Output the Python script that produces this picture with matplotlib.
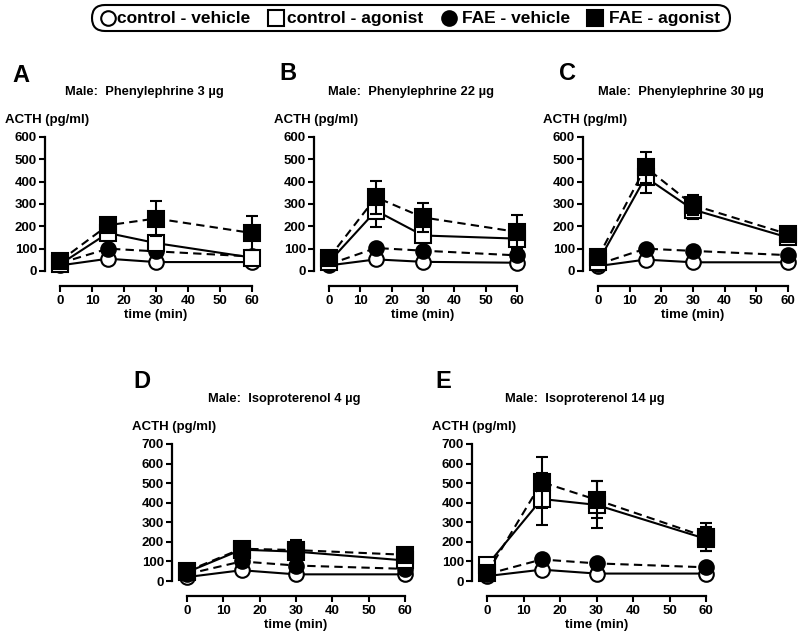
import matplotlib
matplotlib.use("Agg")
import matplotlib.pyplot as plt
from matplotlib.lines import Line2D
from matplotlib.patches import FancyBboxPatch

plt.rcParams['font.family'] = ['Liberation Sans', 'DejaVu Sans']
plt.rcParams['font.weight'] = 'bold'

times = [0, 15, 30, 60]
series_names = ["control - vehicle", "control - agonist", "FAE - vehicle", "FAE - agonist"]

panel_letters = ["A", "B", "C", "D", "E"]
panel_titles = ["Male:  Phenylephrine 3 µg", "Male:  Phenylephrine 22 µg",
                "Male:  Phenylephrine 30 µg", "Male:  Isoproterenol 4 µg",
                "Male:  Isoproterenol 14 µg"]
panel_ymax = [600, 600, 600, 700, 700]

# values per panel: control-vehicle, control-agonist, FAE-vehicle, FAE-agonist
ctrl_veh = [[25, 55, 40, 40], [25, 52, 41, 37], [22, 51, 39, 39], [20, 55, 34, 34], [25, 58, 38, 38]]
ctrl_ag = [[30, 170, 125, 60], [40, 270, 159, 145], [40, 420, 275, 150], [45, 160, 150, 105], [80, 419, 389, 215]]
fae_veh = [[35, 100, 88, 65], [30, 103, 91, 70], [30, 100, 90, 71], [35, 100, 79, 62], [35, 110, 90, 70]]
fae_ag = [[45, 205, 235, 170], [59, 330, 240, 175], [61, 465, 295, 165], [50, 165, 158, 134], [40, 505, 415, 225]]

ctrl_veh_err = [[3, 8, 6, 6], [3, 8, 6, 6], [3, 8, 6, 6], [3, 8, 6, 6], [3, 8, 6, 6]]
ctrl_ag_err = [[5, 15, 30, 15], [5, 75, 20, 30], [5, 70, 40, 20], [5, 15, 20, 15], [10, 135, 120, 60]]
fae_veh_err = [[3, 10, 8, 8], [3, 10, 8, 8], [3, 10, 8, 8], [3, 10, 8, 8], [3, 12, 8, 8]]
fae_ag_err = [[10, 20, 80, 75], [10, 75, 65, 75], [10, 70, 45, 30], [10, 20, 50, 20], [10, 130, 95, 70]]

W, H = 800, 644
fig = plt.figure(figsize=(W / 100, H / 100), dpi=100)

# axes boxes in pixels: left, right, top(ymax), bottom(0)
boxes = [(60, 252, 137, 271), (329, 517, 137, 271), (598, 788, 137, 271),
         (187, 405, 444, 581), (487, 706, 444, 581)]
letter_pos = [(21, 75), (288, 73), (568, 73), (142, 382), (443, 382)]

TFS = 9.5
for i in range(5):
    l, r, t, b = boxes[i]
    ax = fig.add_axes([l / W, 1 - b / H, (r - l) / W, (b - t) / H])
    ax.set_xlim(0, 60)
    ax.set_ylim(0, panel_ymax[i])
    ax.patch.set_visible(False)
    for s in ["top", "right"]:
        ax.spines[s].set_visible(False)
    ax.spines["left"].set_position(("outward", 11))
    ax.spines["bottom"].set_position(("outward", 10.5))
    ax.spines["left"].set_linewidth(1.6)
    ax.spines["bottom"].set_linewidth(1.6)
    ax.set_xticks(range(0, 61, 10))
    ax.set_yticks(range(0, panel_ymax[i] + 1, 100))
    ax.tick_params(width=1.5, length=4, labelsize=TFS)
    ax.tick_params(axis="x", pad=3)
    ax.tick_params(axis="y", pad=1.5)
    for lab in ax.get_xticklabels() + ax.get_yticklabels():
        lab.set_fontweight("bold")
    ax.set_xlabel("time (min)", fontsize=TFS, fontweight="bold", labelpad=1.5)

    kw = dict(color="black", lw=1.5, capsize=4, capthick=1.5, elinewidth=1.5, clip_on=False)
    ax.errorbar(times, ctrl_veh[i], yerr=ctrl_veh_err[i], ls="-", marker="o", ms=10.5,
                mfc="white", mec="black", mew=1.5, zorder=3, **kw)
    ax.errorbar(times, fae_veh[i], yerr=fae_veh_err[i], ls=(0, (4, 2.5)), marker="o", ms=10.5,
                mfc="black", mec="black", mew=1.5, zorder=4, **kw)
    ax.errorbar(times, ctrl_ag[i], yerr=ctrl_ag_err[i], ls="-", marker="s", ms=11.5,
                mfc="white", mec="black", mew=1.5, zorder=5, **kw)
    ax.errorbar(times, fae_ag[i], yerr=fae_ag_err[i], ls=(0, (4, 2.5)), marker="s", ms=11.5,
                mfc="black", mec="black", mew=1.5, zorder=6, **kw)

    # y label above axis
    fig.text((l - 55) / W, 1 - (t - 17) / H, "ACTH (pg/ml)", fontsize=TFS, fontweight="bold",
             ha="left", va="center")
    fig.text(((l + r) / 2 - 12) / W, 1 - (t - 45) / H, panel_titles[i], fontsize=9.3,
             fontweight="bold", ha="center", va="center")
    lx, ly = letter_pos[i]
    fig.text(lx / W, 1 - ly / H, panel_letters[i], fontsize=17, fontweight="bold",
             ha="center", va="center")

# legend drawn manually in pixel layout
box_l, box_r, box_t, box_b = 92, 730, 5, 31
fig.add_artist(FancyBboxPatch((box_l / 100, (H - box_b) / 100), (box_r - box_l) / 100,
                              (box_b - box_t) / 100,
                              boxstyle="round,pad=0,rounding_size=0.13",
                              transform=fig.dpi_scale_trans, fc="white", ec="black", lw=1.5))
leg_marker_x = [108, 276, 449, 595]
leg_text_x = [117, 287, 462, 609]
leg_styles = [("o", "white"), ("s", "white"), ("o", "black"), ("s", "black")]
yc = (box_t + box_b) / 2
for k in range(4):
    m, fc = leg_styles[k]
    fig.add_artist(Line2D([leg_marker_x[k] / W], [1 - yc / H], transform=fig.transFigure,
                          ls="none", marker=m, ms=10.5 if m == "o" else 11, mfc=fc, mec="black", mew=1.5))
    fig.text(leg_text_x[k] / W, 1 - (yc + 0.5) / H, series_names[k], fontsize=12.5,
             fontweight="bold", ha="left", va="center")

fig.savefig("out.png", dpi=100)
